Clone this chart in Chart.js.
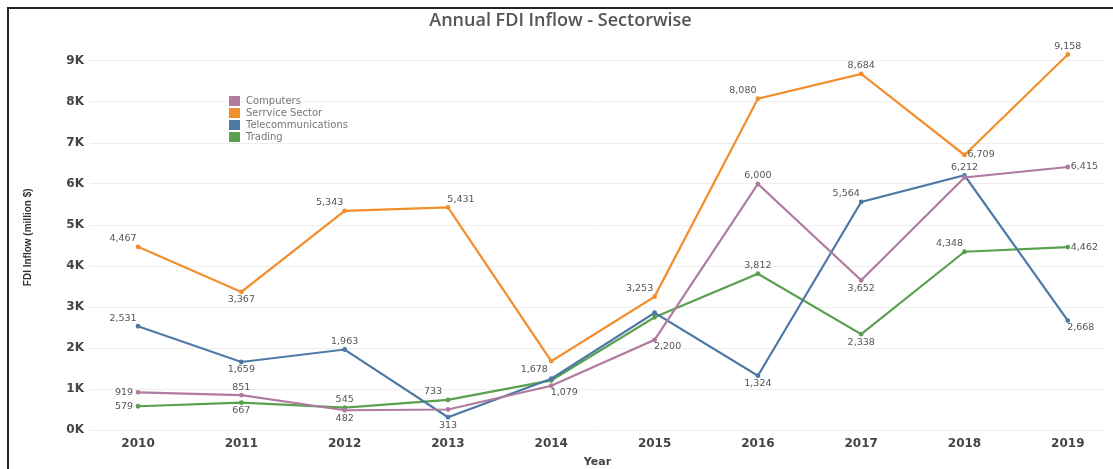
<!DOCTYPE html>
<html><head><meta charset="utf-8">
<script src="https://cdn.jsdelivr.net/npm/chart.js@4"></script>
<style>
html,body{margin:0;padding:0;background:#fff;}
#wrap{position:relative;width:1113px;height:469px;overflow:hidden;}
#frame{position:absolute;left:7px;top:7px;width:1120px;height:480px;border:2px solid #222;box-sizing:border-box;pointer-events:none;}
canvas{position:absolute;left:0;top:0;}
</style></head>
<body>
<div id="wrap"><canvas id="c" width="1113" height="469"></canvas><div id="frame"></div></div>
<script>
const years = [2010,2011,2012,2013,2014,2015,2016,2017,2018,2019];
const computers = [919,851,482,500,1079,2200,6000,3652,6160,6415];
const service = [4467,3367,5343,5431,1678,3253,8080,8684,6709,9158];
const telecom = [2531,1659,1963,313,1250,2860,1324,5564,6212,2668];
const trading = [579,667,545,733,1210,2750,3812,2338,4348,4462];
const seriesNames = ['Computers','Serrvice Sector','Telecommunications','Trading'];
const yTicks = [0,1000,2000,3000,4000,5000,6000,7000,8000,9000];
// label placement per point (null = no label)
const computersPos = ['l','t','b',null,'br','br','t','b',null,'r'];
const servicePos = ['tl','b','tl','tr','bl','tl','tl','t','r','t'];
const telecomPos = ['tl','b','t','b',null,null,'b','tl','t','br'];
const tradingPos = ['l','b','t','tl',null,null,'t','b','tl','r'];

const colors = ['#b07aa1','#f28e2b','#4e79a7','#59a14f'];
const allVals = [computers,service,telecom,trading];
const allPos = [computersPos,servicePos,telecomPos,tradingPos];

const fmt = v => v.toLocaleString('en-US');

const labelPlugin = {
  id:'ptLabels',
  afterDatasetsDraw(chart){
    const ctx = chart.ctx;
    ctx.save();
    ctx.font = '9.5px "DejaVu Sans", sans-serif';
    ctx.fillStyle = '#555';
    chart.data.datasets.forEach((ds,i)=>{
      const meta = chart.getDatasetMeta(i);
      meta.data.forEach((pt,j)=>{
        const p = allPos[i][j];
        if(!p) return;
        let dx=0, dy=0, align='center';
        if(p==='t'){dy=-8;}
        else if(p==='b'){dy=8;}
        else if(p==='l'){dx=-5;align='right';}
        else if(p==='r'){dx=3;align='left';}
        else if(p==='tl'){dx=-15;dy=-8;}
        else if(p==='tr'){dx=13;dy=-8;}
        else if(p==='bl'){dx=-17;dy=8;}
        else if(p==='br'){dx=13;dy=7;}
        ctx.textAlign = align;
        ctx.textBaseline = 'middle';
        ctx.fillText(fmt(allVals[i][j]), pt.x+dx, pt.y+dy);
      });
    });
    ctx.restore();
  }
};

const legendPlugin = {
  id:'inLegend',
  afterDraw(chart){
    const ctx = chart.ctx;
    ctx.save();
    ctx.font = '10px "DejaVu Sans", sans-serif';
    ctx.textBaseline='middle';
    ctx.textAlign='left';
    seriesNames.forEach((n,i)=>{
      const y = 101 + i*12;
      ctx.fillStyle = colors[i];
      ctx.fillRect(229, y-5, 11, 10);
      ctx.fillStyle = '#777';
      ctx.fillText(n, 246, y);
    });
    ctx.restore();
  }
};

const datasets = allVals.map((vals,i)=>({
  label: seriesNames[i],
  data: vals.map((v,j)=>({x:years[j], y:v})),
  borderColor: colors[i],
  backgroundColor: colors[i],
  borderWidth: 2.2,
  pointRadius: 1.3,
  pointHoverRadius: 1.5,
  tension: 0,
  fill:false
}));

new Chart(document.getElementById('c'), {
  type:'line',
  data:{datasets},
  plugins:[labelPlugin, legendPlugin],
  options:{
    responsive:false,
    animation:false,
    layout:{padding:{left:16,right:8,top:0,bottom:0}},
    plugins:{
      legend:{display:false},
      tooltip:{enabled:false},
      title:{display:true,text:'Annual FDI Inflow - Sectorwise',color:'#555',
        font:{family:'"Open Sans", sans-serif',size:18,weight:'600'},padding:{top:10,bottom:13}}
    },
    scales:{
      x:{
        type:'linear', min:2009.535, max:2019.36,
        afterBuildTicks(axis){ axis.ticks = years.map(v=>({value:v})); },
        afterFit(axis){ axis.height = 39; },
        grid:{display:false, drawTicks:false},
        border:{display:false},
        ticks:{color:'#444',padding:7,font:{family:'"DejaVu Sans", sans-serif',size:12,weight:'bold'},
          callback:v=>String(v), autoSkip:false, maxRotation:0},
        title:{display:true,text:'Year',color:'#444',padding:{top:1,bottom:0},
          font:{family:'"DejaVu Sans", sans-serif',size:11,weight:'bold'}}
      },
      y:{
        min:0, max:9400,
        afterBuildTicks(axis){ axis.ticks = yTicks.map(v=>({value:v})); },
        afterFit(axis){ axis.width = 74; },
        grid:{color:'#eeeeee', drawTicks:false},
        border:{display:false},
        ticks:{color:'#444',padding:6,font:{family:'"DejaVu Sans", sans-serif',size:12,weight:'bold'},
          callback:v=>(v/1000)+'K'},
        title:{display:true,text:'FDI Inflow (million $)',color:'#333',padding:{top:6,bottom:0},
          font:{family:'"Liberation Sans Narrow", "Liberation Sans", sans-serif',size:10,weight:'bold'}}
      }
    }
  }
});
</script>
</body></html>
